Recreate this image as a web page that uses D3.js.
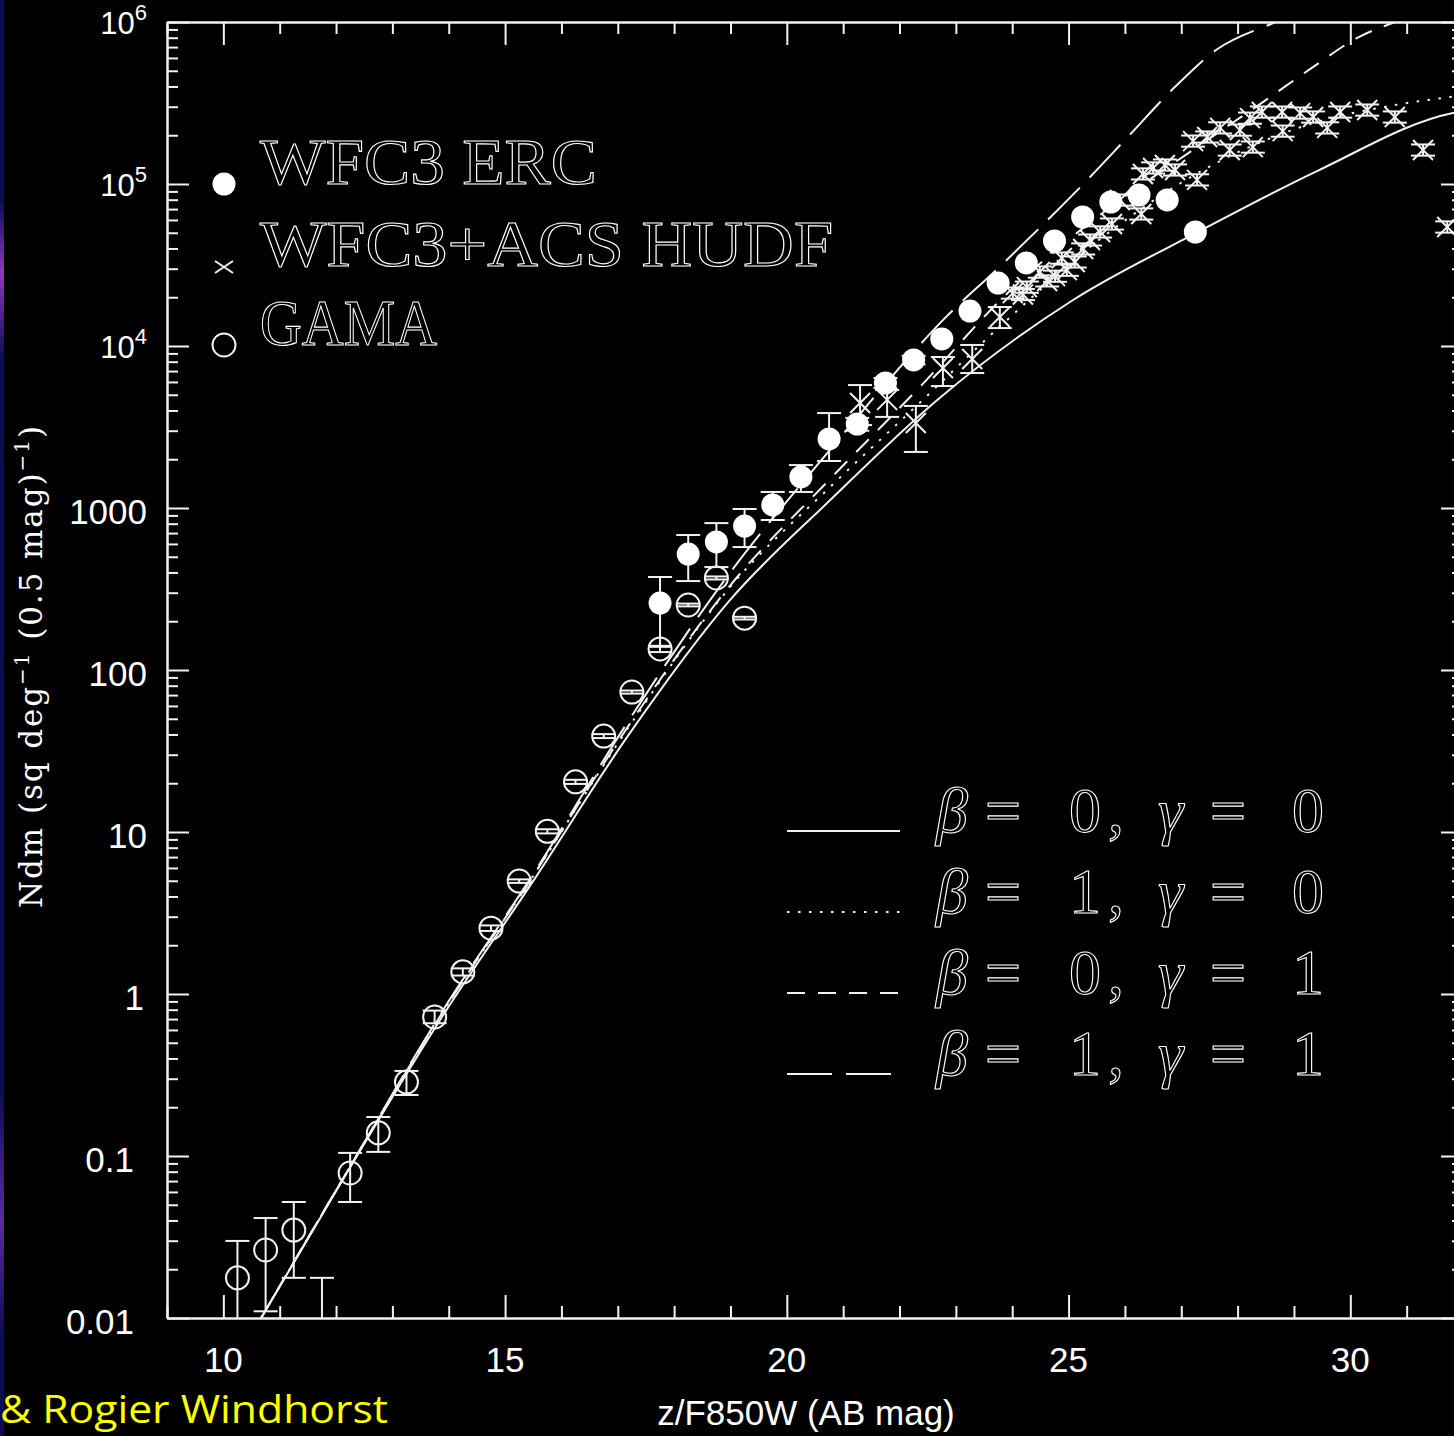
<!DOCTYPE html>
<html>
<head>
<meta charset="utf-8">
<script src="https://cdn.jsdelivr.net/npm/d3@7"></script>
<style>
  html, body { margin: 0; padding: 0; background: #000; overflow: hidden; }
  svg { display: block; }
</style>
</head>
<body>
<svg id="chart" width="1454" height="1436"></svg>
<script>
// ---- data ----
// GAMA (open circles)
const gamaMag = [10.25, 10.75, 11.25, 11.75, 12.25, 12.75, 13.25, 13.75, 14.25, 14.75, 15.25, 15.75, 16.25, 16.75, 17.25, 17.75, 18.25, 18.75, 19.25];
const gamaN   = [0.0177, 0.0263, 0.0349, 0.004, 0.0785, 0.139, 0.286, 0.721, 1.37, 2.55, 4.98, 10.1, 20.4, 39.1, 73.1, 135, 252, 370, 209];
const gamaLo  = [0.004, 0.0110, 0.0177, 0.001, 0.052, 0.106, 0.238, 0.66, 1.30, 2.45, 4.85, 9.8, 19.8, 38.0, 71.5, 129, 247, 362, 205];
const gamaHi  = [0.0299, 0.0414, 0.052, 0.0177, 0.1045, 0.174, 0.335, 0.79, 1.44, 2.65, 5.10, 10.4, 21.0, 40.2, 74.7, 141, 257, 378, 213];

// WFC3 ERC (filled circles)
const ercMag = [17.75, 18.25, 18.75, 19.25, 19.75, 20.25, 20.75, 21.25, 21.75, 22.25, 22.75, 23.25, 23.75, 24.25, 24.75, 25.25, 25.75, 26.25, 26.75, 27.25];
const ercN   = [259, 520, 617, 774, 1044, 1555, 2667, 3300, 5910, 8200, 11050, 16440, 24480, 32540, 44480, 62560, 77430, 85530, 79700, 50550];
const ercLo  = [139, 354, 432, 574, 843, 1256, 1950, 3000, 5500, 7700, null, null, null, null, null, null, null, null, null, null];
const ercHi  = [375, 681, 807, 986, 1256, 1841, 3855, 3600, 6350, 8700, null, null, null, null, null, null, null, null, null, null];

// WFC3+ACS HUDF (crosses)
const hudfMag = [21.30, 21.78, 22.29, 22.77, 23.29, 23.78, 24.01, 24.19, 24.26, 24.49, 24.62, 24.76, 24.88, 24.97, 25.11, 25.26, 25.38, 25.56, 25.77, 25.91,
                 26.29, 26.32, 26.50, 26.71, 26.89, 27.21, 27.28, 27.46, 27.69, 27.86, 28.04, 28.22, 28.27, 28.43, 28.79, 28.80, 29.11, 29.34, 29.59, 29.82,
                 30.30, 30.79, 31.29, 31.72];
const hudfN   = [4450, 4650, 3350, 7310, 8320, 15100, 21200, 20800, 23100, 28600, 25200, 27000, 34900, 29400, 33000, 39700, 45100, 50600, 56600, 79600,
                 65300, 115400, 125600, 131000, 122000, 184000, 106000, 195000, 222000, 162000, 215000, 255000, 169000, 278000, 278000, 212000, 274000, 259000, 222000, 278000,
                 286000, 259000, 162000, 54300];
const hudfLo  = [3250, 3650, 2218, 5660, 6810, 12900, 19600, 19200, 21300, 26400, 23300, 24900, 32200, 27100, 30500, 36700, 41700, 46700, 52300, 73500,
                 60300, 106600, 116000, 121000, 112700, 170000, 97900, 180100, 205000, 149600, 198600, 235500, 156100, 256800, 256800, 195800, 253100, 239200, 205000, 256800,
                 264100, 239200, 149600, 50100];
const hudfHi  = [5740, 5350, 4266, 8550, 10150, 17400, 23000, 22500, 25000, 31000, 27300, 29200, 37800, 31800, 35700, 43000, 48800, 54800, 61300, 86200,
                 70700, 124900, 136000, 141800, 132100, 199200, 114800, 211100, 240400, 175400, 232800, 276100, 183000, 301000, 301000, 229600, 296700, 280500, 240400, 301000,
                 309700, 280500, 175400, 58800];

// model curves
const solidMag = [10.67, 12.19, 13.88, 15.50, 17.18, 18.99, 20.77, 22.67, 25.08, 27.30, 29.41, 31.82, 32.2];
const solidN   = [0.01, 0.0785, 0.721, 4.99, 39.2, 270, 1119, 4645, 19230, 50600, 120200, 274200, 288400];
const dottedMag = [10.67, 12.19, 13.88, 15.50, 17.18, 18.99, 20.77, 22.27, 23.78, 25.56, 27.46, 29.11, 30.83, 31.82, 32.2];
const dottedN   = [0.01, 0.0794, 0.759, 5.37, 43.7, 324, 1349, 4169, 13180, 45710, 125900, 223900, 309000, 346700, 363100];
const shortMag = [10.67, 12.19, 13.88, 15.50, 17.18, 18.99, 20.77, 22.45, 23.78, 25.56, 27.08, 28.55, 29.33, 30.15, 30.80, 31.3];
const shortN   = [0.01, 0.0794, 0.759, 5.37, 44.7, 331, 1514, 6026, 19050, 64570, 151400, 338800, 524800, 807200, 1000000, 1148000];
const longMag = [10.67, 12.19, 13.88, 15.50, 17.18, 18.99, 20.77, 21.96, 22.77, 23.78, 24.46, 25.29, 26.05, 26.89, 27.63, 28.61, 29.2];
const longN   = [0.01, 0.0794, 0.776, 5.50, 47.9, 398, 2291, 7079, 14450, 30900, 52480, 102300, 195000, 398100, 676100, 977200, 1175000];

const betaVals  = [0, 1, 0, 1];
const gammaVals = [0, 0, 1, 1];
const legendNames = ["WFC3 ERC", "WFC3+ACS HUDF", "GAMA"];

const xTickVals = [10, 15, 20, 25, 30];
const yTickVals = [1e6, 1e5, 1e4, 1000, 100, 10, 1, 0.1, 0.01];
const yTickBase = ["10", "10", "10", "1000", "100", "10", "1", "0.1", "0.01"];
const yTickSup  = ["6", "5", "4", "", "", "", "", "", ""];

// ---- drawing ----
const svg = d3.select("#chart");
const ink = "#f2f2f2";

const x = d3.scaleLinear().domain([9, 32]).range([167, 1463]);
const y = d3.scaleLog().domain([0.01, 1e6]).range([1318, 22]);

svg.append("rect").attr("width", 1454).attr("height", 1436).attr("fill", "#000");

// thin slide edge on the left
const defs = svg.append("defs");
const grad = defs.append("linearGradient").attr("id", "edge")
  .attr("x1", 0).attr("y1", 0).attr("x2", 0).attr("y2", 1);
[[0, "#0b0b58"], [0.14, "#0b0b58"], [0.19, "#8e37c4"], [0.25, "#0b0b58"],
 [0.76, "#0b0b58"], [0.85, "#5b2aa0"], [0.93, "#0b0b58"], [1, "#0b0b58"]]
  .forEach(s => grad.append("stop").attr("offset", s[0]).attr("stop-color", s[1]));
svg.append("rect").attr("x", 0).attr("y", 0).attr("width", 4).attr("height", 1436).attr("fill", "url(#edge)");

defs.append("clipPath").attr("id", "plot")
  .append("rect").attr("x", 167).attr("y", 22).attr("width", 1296).attr("height", 1296);

// axes with inward ticks
const xMinor = d3.range(9, 33).filter(v => v % 5 !== 0);
const yMinor = [];
for (let d = -2; d < 6; d++) for (let k = 2; k <= 9; k++) yMinor.push(k * Math.pow(10, d));

function styleAxis(g) {
  g.selectAll("path, line").attr("stroke", ink).attr("stroke-width", 2);
  g.selectAll("text").remove();
}
svg.append("g").attr("transform", "translate(0,1318)")
  .call(d3.axisBottom(x).tickValues(xMinor).tickSize(-12).tickSizeOuter(0)).call(styleAxis);
svg.append("g").attr("transform", "translate(0,1318)")
  .call(d3.axisBottom(x).tickValues(xTickVals).tickSize(-23).tickSizeOuter(0)).call(styleAxis);
svg.append("g").attr("transform", "translate(0,22)")
  .call(d3.axisTop(x).tickValues(xMinor).tickSize(-12).tickSizeOuter(0)).call(styleAxis);
svg.append("g").attr("transform", "translate(0,22)")
  .call(d3.axisTop(x).tickValues(xTickVals).tickSize(-23).tickSizeOuter(0)).call(styleAxis);
svg.append("g").attr("transform", "translate(167,0)")
  .call(d3.axisLeft(y).tickValues(yMinor).tickSize(-11).tickSizeOuter(0)).call(styleAxis);
svg.append("g").attr("transform", "translate(167,0)")
  .call(d3.axisLeft(y).tickValues(yTickVals).tickSize(-22).tickSizeOuter(0)).call(styleAxis);
svg.append("g").attr("transform", "translate(1463,0)")
  .call(d3.axisRight(y).tickValues(yMinor).tickSize(-11).tickSizeOuter(0)).call(styleAxis);
svg.append("g").attr("transform", "translate(1463,0)")
  .call(d3.axisRight(y).tickValues(yTickVals).tickSize(-22).tickSizeOuter(0)).call(styleAxis);

// tick labels
const sans = "'Liberation Sans', Arial, sans-serif";
svg.append("g").selectAll("text").data(xTickVals).join("text")
  .attr("x", d => x(d)).attr("y", 1372)
  .attr("text-anchor", "middle").attr("font-family", sans).attr("font-size", 35)
  .attr("fill", "#fff").text(d => d);

const yNudge = { "1": -3, "0.1": -13, "0.01": -13 };
yTickVals.forEach((v, i) => {
  const t = svg.append("text").attr("text-anchor", "end").attr("font-family", sans).attr("fill", "#fff");
  if (yTickSup[i]) {
    t.attr("x", 147).attr("y", y(v) + 12).attr("font-size", 31);
    t.append("tspan").text(yTickBase[i]);
    t.append("tspan").attr("font-size", 22).attr("dy", -14).text(yTickSup[i]);
  } else {
    t.attr("x", 147 + (yNudge[yTickBase[i]] || 0)).attr("y", y(v) + 16).attr("font-size", 35).text(yTickBase[i]);
  }
});

// axis titles
svg.append("text").attr("x", 806).attr("y", 1425).attr("text-anchor", "middle")
  .attr("font-family", sans).attr("font-size", 35).attr("fill", "#fff")
  .text("z/F850W (AB mag)");

const yt = svg.append("text")
  .attr("transform", "translate(42,667) rotate(-90)")
  .attr("text-anchor", "middle").attr("font-family", "'DejaVu Serif', 'Liberation Serif', serif")
  .attr("font-size", 31).attr("fill", "#fff")
  .attr("textLength", 482).attr("lengthAdjust", "spacing");
yt.append("tspan").text("Ndm (sq deg");
yt.append("tspan").attr("font-size", 20).attr("dy", -13).text("−1");
yt.append("tspan").attr("dy", 13).text(" (0.5 mag)");
yt.append("tspan").attr("font-size", 20).attr("dy", -13).text("−1");
yt.append("tspan").attr("dy", 13).text(")");

// plot area content
const plot = svg.append("g").attr("clip-path", "url(#plot)");

const line = d3.line().x(d => x(d[0])).y(d => y(d[1])).curve(d3.curveMonotoneX);
const models = [
  { mag: solidMag, n: solidN, dash: null },
  { mag: dottedMag, n: dottedN, dash: "2.5,8.5" },
  { mag: shortMag, n: shortN, dash: "18,13" },
  { mag: longMag, n: longN, dash: "45,14" }
];
models.forEach(m => {
  plot.append("path")
    .datum(d3.zip(m.mag, m.n))
    .attr("d", line)
    .attr("fill", "none").attr("stroke", ink).attr("stroke-width", 2)
    .attr("stroke-dasharray", m.dash);
});

function errorBars(mags, lo, hi) {
  const g = plot.append("g").attr("stroke", ink).attr("stroke-width", 2);
  mags.forEach((m, i) => {
    if (lo[i] == null) return;
    const cx = x(m), y0 = y(lo[i]), y1 = y(hi[i]);
    g.append("line").attr("x1", cx).attr("x2", cx).attr("y1", y0).attr("y2", y1);
    g.append("line").attr("x1", cx - 12).attr("x2", cx + 12).attr("y1", y0).attr("y2", y0);
    g.append("line").attr("x1", cx - 12).attr("x2", cx + 12).attr("y1", y1).attr("y2", y1);
  });
}
errorBars(gamaMag, gamaLo, gamaHi);
errorBars(hudfMag, hudfLo, hudfHi);
errorBars(ercMag, ercLo, ercHi);

plot.append("g").selectAll("circle").data(d3.zip(gamaMag, gamaN)).join("circle")
  .attr("cx", d => x(d[0])).attr("cy", d => y(d[1])).attr("r", 11.5)
  .attr("fill", "none").attr("stroke", ink).attr("stroke-width", 2);

plot.append("g").selectAll("path").data(d3.zip(hudfMag, hudfN)).join("path")
  .attr("transform", d => `translate(${x(d[0])},${y(d[1])})`)
  .attr("d", "M-10,-10L10,10M-10,10L10,-10")
  .attr("stroke", ink).attr("stroke-width", 2).attr("fill", "none");

plot.append("g").selectAll("circle").data(d3.zip(ercMag, ercN)).join("circle")
  .attr("cx", d => x(d[0])).attr("cy", d => y(d[1])).attr("r", 11.5)
  .attr("fill", "#fff");

// symbol legend (top left)
const serif = "'Liberation Serif', 'DejaVu Serif', serif";
const symLegend = svg.append("g");
const legY = [184, 266, 345];
const legLen = [337, 573, 177];
symLegend.append("circle").attr("cx", 224).attr("cy", 184).attr("r", 11.5).attr("fill", "#fff");
symLegend.append("path").attr("transform", "translate(224,267)")
  .attr("d", "M-9,-6L9,6M-9,6L9,-6").attr("stroke", ink).attr("stroke-width", 2);
symLegend.append("circle").attr("cx", 224).attr("cy", 345).attr("r", 11.5)
  .attr("fill", "none").attr("stroke", ink).attr("stroke-width", 2);
legendNames.forEach((name, i) => {
  symLegend.append("text").attr("x", 260).attr("y", legY[i])
    .attr("font-family", serif).attr("font-size", 66)
    .attr("fill", "none").attr("stroke", "#fff").attr("stroke-width", 1.1)
    .attr("textLength", legLen[i]).attr("lengthAdjust", "spacingAndGlyphs")
    .text(name);
});

// model legend (bottom right)
const modLegend = svg.append("g");
models.forEach((m, i) => {
  const ry = 831 + i * 81;
  modLegend.append("line").attr("x1", 787).attr("x2", 900).attr("y1", ry).attr("y2", ry)
    .attr("stroke", ink).attr("stroke-width", 2).attr("stroke-dasharray", m.dash);
  const st = sel => sel.attr("font-family", serif).attr("font-size", 64)
    .attr("fill", "none").attr("stroke", "#fff").attr("stroke-width", 1.1).attr("y", ry + 1);
  modLegend.append("text").call(st).attr("x", 936).attr("font-style", "italic").text("β");
  modLegend.append("text").call(st).attr("x", 985).text("=");
  modLegend.append("text").call(st).attr("x", 1085).attr("text-anchor", "middle").text(betaVals[i]);
  modLegend.append("text").call(st).attr("x", 1108).text(",");
  modLegend.append("text").call(st).attr("x", 1158).attr("font-style", "italic").text("γ");
  modLegend.append("text").call(st).attr("x", 1210).text("=");
  modLegend.append("text").call(st).attr("x", 1308).attr("text-anchor", "middle").text(gammaVals[i]);
});

// credit on the slide
svg.append("text").attr("x", 0).attr("y", 1423)
  .attr("font-family", "'Open Sans', Lato, sans-serif").attr("font-size", 39)
  .attr("fill", "#ffff00").attr("textLength", 388).attr("lengthAdjust", "spacingAndGlyphs")
  .text("& Rogier Windhorst");
</script>
</body>
</html>
